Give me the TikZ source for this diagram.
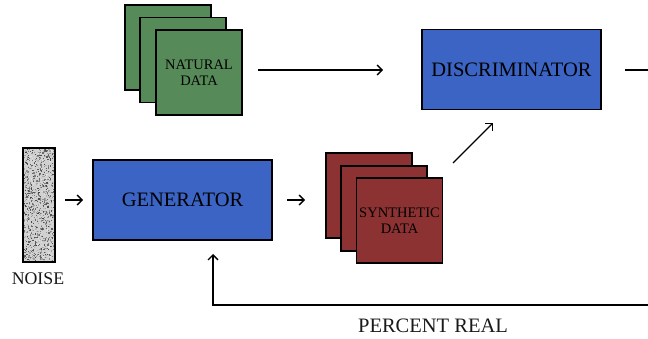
\documentclass[tikz,border=0pt]{standalone}
\usepackage{fontspec}
\setmainfont{Liberation Serif}
\usetikzlibrary{arrows.meta}
\definecolor{blockblue}{HTML}{3B64C4}
\definecolor{natgreen}{HTML}{578A59}
\definecolor{synred}{HTML}{8C3232}
\tikzset{
  block/.style={draw=black, line width=1.3pt, fill=blockblue, minimum width=179pt, minimum height=80pt, inner sep=0pt, font=\fontsize{20.5}{22}\selectfont},
  card/.style={draw=black, line width=1.3pt, minimum width=86pt, minimum height=85pt, inner sep=0pt},
  natcard/.style={card, fill=natgreen},
  syncard/.style={card, fill=synred},
  cardtext/.style={align=center, font=\fontsize{14.5}{15.5}\selectfont, text=black},
  flow/.style={line width=1.4pt, -{Straight Barb[length=5pt,width=10pt,line width=1.4pt]}},
  plainline/.style={line width=1.4pt},
  lbl/.style={font=\fontsize{20.5}{22}\selectfont, text=black!90}
}
\begin{document}
\begin{tikzpicture}[x=1pt,y=-1pt]
\useasboundingbox (0,0) rectangle (648,339);

% noise strip
\node[draw=none, fill=black!18, minimum width=31pt, minimum height=114pt, inner sep=0pt] (noise) at (39,205) {};
\begin{scope}
  \clip (23.5,148) rectangle (54.5,262);
  \pgfmathsetseed{7}
  \foreach \i in {1,...,1200} {
    \pgfmathsetmacro\xx{23+32*rnd}
    \pgfmathsetmacro\yy{148+115*rnd}
    \pgfmathsetmacro\gg{int(10+65*rnd)}
    \fill[black!\gg] (\xx,\yy) rectangle ++(1.2,1.2);
  }
\end{scope}
\draw[line width=1.6pt] (23,148) rectangle (55,262);
\node[lbl, font=\fontsize{17.8}{19}\selectfont] (noiselbl) at (38,279) {NOISE};

% generator
\node[block] (gen) at (182.5,200) {GENERATOR};

% synthetic data stack
\node[syncard] (syn1) at (369,195.5) {};
\node[syncard] (syn2) at (384,208.5) {};
\node[syncard, cardtext] (syn3) at (399.5,220.5) {SYNTHETIC\\DATA};

% natural data stack
\node[natcard] (nat1) at (168,47.5) {};
\node[natcard] (nat2) at (183,60) {};
\node[natcard, cardtext] (nat3) at (199,72.5) {NATURAL\\DATA};

% discriminator
\node[block] (disc) at (511.5,69.5) {DISCRIMINATOR};

% arrows
\coordinate (n1) at (65,200);
\coordinate (n2) at (83,200);
\draw[flow] (n1) -- (n2);
\coordinate (g1) at (287,200);
\coordinate (g2) at (305,200);
\draw[flow] (g1) -- (g2);
\coordinate (s1) at (453,163);
\coordinate (s2) at (493,123);
\draw[flow] (s1) -- (s2);
\coordinate (a1) at (258,70);
\coordinate (a2) at (383,70);
\draw[flow] (a1) -- (a2);

% output line and feedback loop
\coordinate (o1) at (625,70);
\coordinate (o2) at (649,70);
\draw[plainline] (o1) -- (o2);
\coordinate (f1) at (649,305);
\coordinate (f2) at (213,305);
\coordinate (f3) at (213,254);
\draw[flow] (f1) -- (f2) -- (f3);
\node[lbl] (pct) at (433,326) {PERCENT REAL};
\end{tikzpicture}
\end{document}
